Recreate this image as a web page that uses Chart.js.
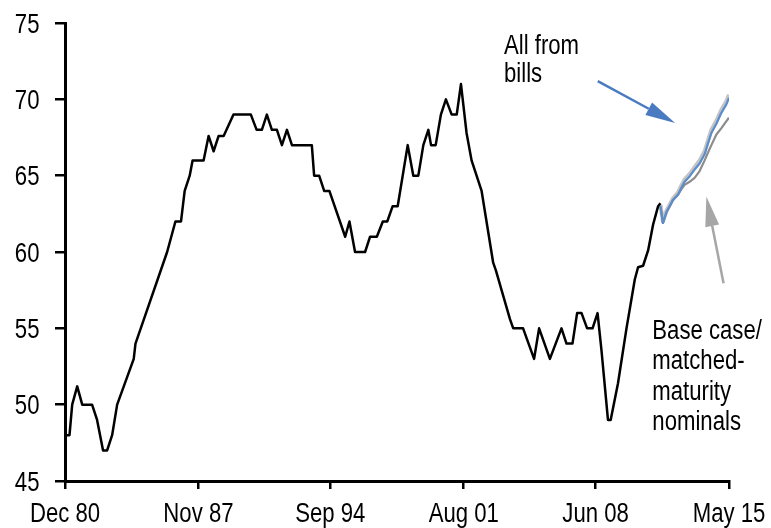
<!DOCTYPE html>
<html lang="en">
<head>
  <meta charset="UTF-8">
  <title>Share chart</title>
  <script src="https://cdn.jsdelivr.net/npm/chart.js"></script>
  <style>
    html, body {
      margin: 0;
      padding: 0;
      background: #fff;
    }

    .chart-container {
      width: 771px;
      height: 528px;
    }
  </style>
</head>
<body>
<div class="chart-container">
  <canvas id="lineChart"></canvas>
</div>
<script>
  // history (x = decimal year)
  const histDates = [
    1980.917, 1981.15, 1981.29, 1981.55, 1981.81, 1982.32, 1982.58, 1982.89, 1983.10, 1983.36,
    1983.62, 1984.48, 1984.57, 1986.21, 1986.64, 1986.93, 1987.12, 1987.38, 1987.53, 1988.10,
    1988.36, 1988.62, 1988.88, 1989.14, 1989.65, 1990.55, 1990.85, 1991.12, 1991.38, 1991.64,
    1991.90, 1992.16, 1992.42, 1992.68, 1993.71, 1993.83, 1994.09, 1994.35, 1994.62, 1995.44,
    1995.66, 1995.95, 1996.47, 1996.73, 1997.08, 1997.39, 1997.62, 1997.90, 1998.16, 1998.68,
    1998.97, 1999.23, 1999.49, 1999.75, 1999.89, 2000.13, 2000.40, 2000.66, 2000.96, 2001.22,
    2001.44, 2001.73, 2001.99, 2002.51, 2003.11, 2003.25, 2003.98, 2004.15, 2004.66, 2005.23,
    2005.49, 2006.05, 2006.65, 2006.91, 2007.22, 2007.46, 2007.69, 2007.98, 2008.26, 2008.52,
    2008.72, 2009.06, 2009.20, 2009.58, 2010.02, 2010.45, 2010.62, 2010.88, 2011.14, 2011.40,
    2011.66, 2011.78
  ];
  const histValues = [
    48, 48, 50, 51.2, 50, 50, 49, 47, 47, 48,
    50, 53, 54, 60, 62, 62, 64, 65, 66, 66,
    67.6, 66.6, 67.6, 67.6, 69, 69, 68, 68, 69, 68,
    68, 67, 68, 67, 67, 65, 65, 64, 64, 61,
    62, 60, 60, 61, 61, 62, 62, 63, 63, 67,
    65, 65, 67, 68, 67, 67, 69, 70, 69, 69,
    71, 67.8, 66, 64, 59.3, 58.8, 55.6, 55, 55, 53,
    55, 53, 55, 54, 54, 56, 56, 55, 55, 56,
    53.6, 49, 49, 51.4, 55, 58.2, 59, 59.1, 60.1, 61.8,
    63, 63.2
  ];

  // projections
  const projDates = [
    2011.78, 2011.91, 2012.09, 2012.26, 2012.43, 2012.69, 2012.86, 2013.03, 2013.29, 2013.55,
    2013.81, 2014.07, 2014.24, 2014.42, 2014.68, 2014.93, 2015.19, 2015.33
  ];
  const billsValues = [
    63.0, 61.9, 62.6, 63.0, 63.4, 63.75, 64.2, 64.6, 64.95, 65.4,
    65.8, 66.4, 67.1, 67.8, 68.4, 69.1, 69.65, 70.1
  ];
  const altValues = [
    63.1, 62.0, 62.7, 63.1, 63.5, 63.9, 64.35, 64.75, 65.1, 65.55,
    66.0, 66.6, 67.3, 68.0, 68.6, 69.3, 69.85, 70.3
  ];
  const baseValues = [
    63.0, 61.9, 62.6, 63.0, 63.4, 63.75, 64.1, 64.4, 64.6, 64.85,
    65.3, 66.0, 66.5, 67.0, 67.7, 68.1, 68.55, 68.8
  ];

  const tickDates = [1980.917, 1987.833, 1994.667, 2001.583, 2008.417, 2015.333];
  const tickLabels = ['Dec 80', 'Nov 87', 'Sep 94', 'Aug 01', 'Jun 08', 'May 15'];

  const toPoints = (xs, ys) => xs.map((x, i) => ({ x: x, y: ys[i] }));
  const FONT = '27px "Liberation Sans", Arial, sans-serif';
  const NARROW = 0.82; // no narrow font installed, squeeze the regular one

  // text labels and arrows, placed in data units
  const notes = [
    { lines: ['All from', 'bills'], x: 2003.67, y: 72.96, step: 28.3 },
    { lines: ['Base case/', 'matched-', 'maturity', 'nominals'], x: 2011.36, y: 54.31, step: 30.5 }
  ];
  const arrows = [
    { from: [2008.53, 71.19], to: [2012.54, 68.45], color: '#4a7bc1' },
    { from: [2015.05, 57.95], to: [2014.16, 63.64], color: '#a6a6a6' }
  ];

  function narrowText(ctx, text, x, y, align) {
    ctx.save();
    ctx.translate(x, y);
    ctx.scale(NARROW, 1);
    ctx.textAlign = align;
    ctx.fillText(text, 0, 0);
    ctx.restore();
  }

  const textPlugin = {
    id: 'texts',
    afterDraw(chart) {
      const ctx = chart.ctx;
      const xs = chart.scales.x, ys = chart.scales.y;
      ctx.save();
      ctx.font = FONT;
      ctx.fillStyle = '#000';
      ctx.textBaseline = 'alphabetic';

      // axis labels
      ys.ticks.forEach(t => {
        narrowText(ctx, String(t.value), xs.left - 25.5, ys.getPixelForValue(t.value) + 9.5, 'right');
      });
      tickDates.forEach((d, i) => {
        narrowText(ctx, tickLabels[i], xs.getPixelForValue(d), ys.bottom + 41, 'center');
      });

      notes.forEach(n => {
        const px = xs.getPixelForValue(n.x);
        const py = ys.getPixelForValue(n.y);
        n.lines.forEach((t, i) => narrowText(ctx, t, px, py + i * n.step, 'left'));
      });

      arrows.forEach(a => {
        const x0 = xs.getPixelForValue(a.from[0]), y0 = ys.getPixelForValue(a.from[1]);
        const x1 = xs.getPixelForValue(a.to[0]), y1 = ys.getPixelForValue(a.to[1]);
        const ang = Math.atan2(y1 - y0, x1 - x0);
        const hl = 30, hw = 7;
        const bx = x1 - hl * Math.cos(ang), by = y1 - hl * Math.sin(ang);
        ctx.strokeStyle = a.color;
        ctx.fillStyle = a.color;
        ctx.lineWidth = 2.5;
        ctx.beginPath();
        ctx.moveTo(x0, y0);
        ctx.lineTo(bx, by);
        ctx.stroke();
        ctx.beginPath();
        ctx.moveTo(x1, y1);
        ctx.lineTo(bx + hw * Math.sin(ang), by - hw * Math.cos(ang));
        ctx.lineTo(bx - hw * Math.sin(ang), by + hw * Math.cos(ang));
        ctx.closePath();
        ctx.fill();
      });
      ctx.restore();
    }
  };

  const ctxLine = document.getElementById('lineChart').getContext('2d');
  new Chart(ctxLine, {
    type: 'line',
    data: {
      datasets: [{
        label: 'All from bills',
        data: toPoints(projDates, billsValues),
        borderColor: '#5b8ccc',
        borderWidth: 2.2
      }, {
        label: 'History',
        data: toPoints(histDates, histValues),
        borderColor: '#000',
        borderWidth: 2.5
      }, {
        label: 'Base case',
        data: toPoints(projDates, baseValues),
        borderColor: '#8c8c8c',
        borderWidth: 2.2
      }, {
        label: 'Alt',
        data: toPoints(projDates, altValues),
        borderColor: '#c4c4c4',
        borderWidth: 4
      }]
    },
    options: {
      responsive: true,
      maintainAspectRatio: false,
      animation: false,
      elements: {
        point: { radius: 0 },
        line: { tension: 0, borderJoinStyle: 'round' }
      },
      layout: { padding: { top: 23, right: 42, left: 0, bottom: 0 } },
      plugins: {
        legend: { display: false },
        tooltip: { enabled: false }
      },
      scales: {
        x: {
          type: 'linear',
          min: tickDates[0],
          max: tickDates[tickDates.length - 1],
          afterBuildTicks: s => { s.ticks = tickDates.map(v => ({ value: v })); },
          afterFit: s => { s.height = 47; },
          grid: { drawOnChartArea: false, color: '#000', lineWidth: 2.5, tickLength: 8 },
          border: { color: '#000', width: 3 },
          ticks: { display: false }
        },
        y: {
          min: 45,
          max: 75,
          afterFit: s => { s.width = 65; },
          grid: { drawOnChartArea: false, color: '#000', lineWidth: 2.5, tickLength: 10 },
          border: { color: '#000', width: 3 },
          ticks: { display: false, stepSize: 5 }
        }
      }
    },
    plugins: [textPlugin]
  });
</script>
</body>
</html>
